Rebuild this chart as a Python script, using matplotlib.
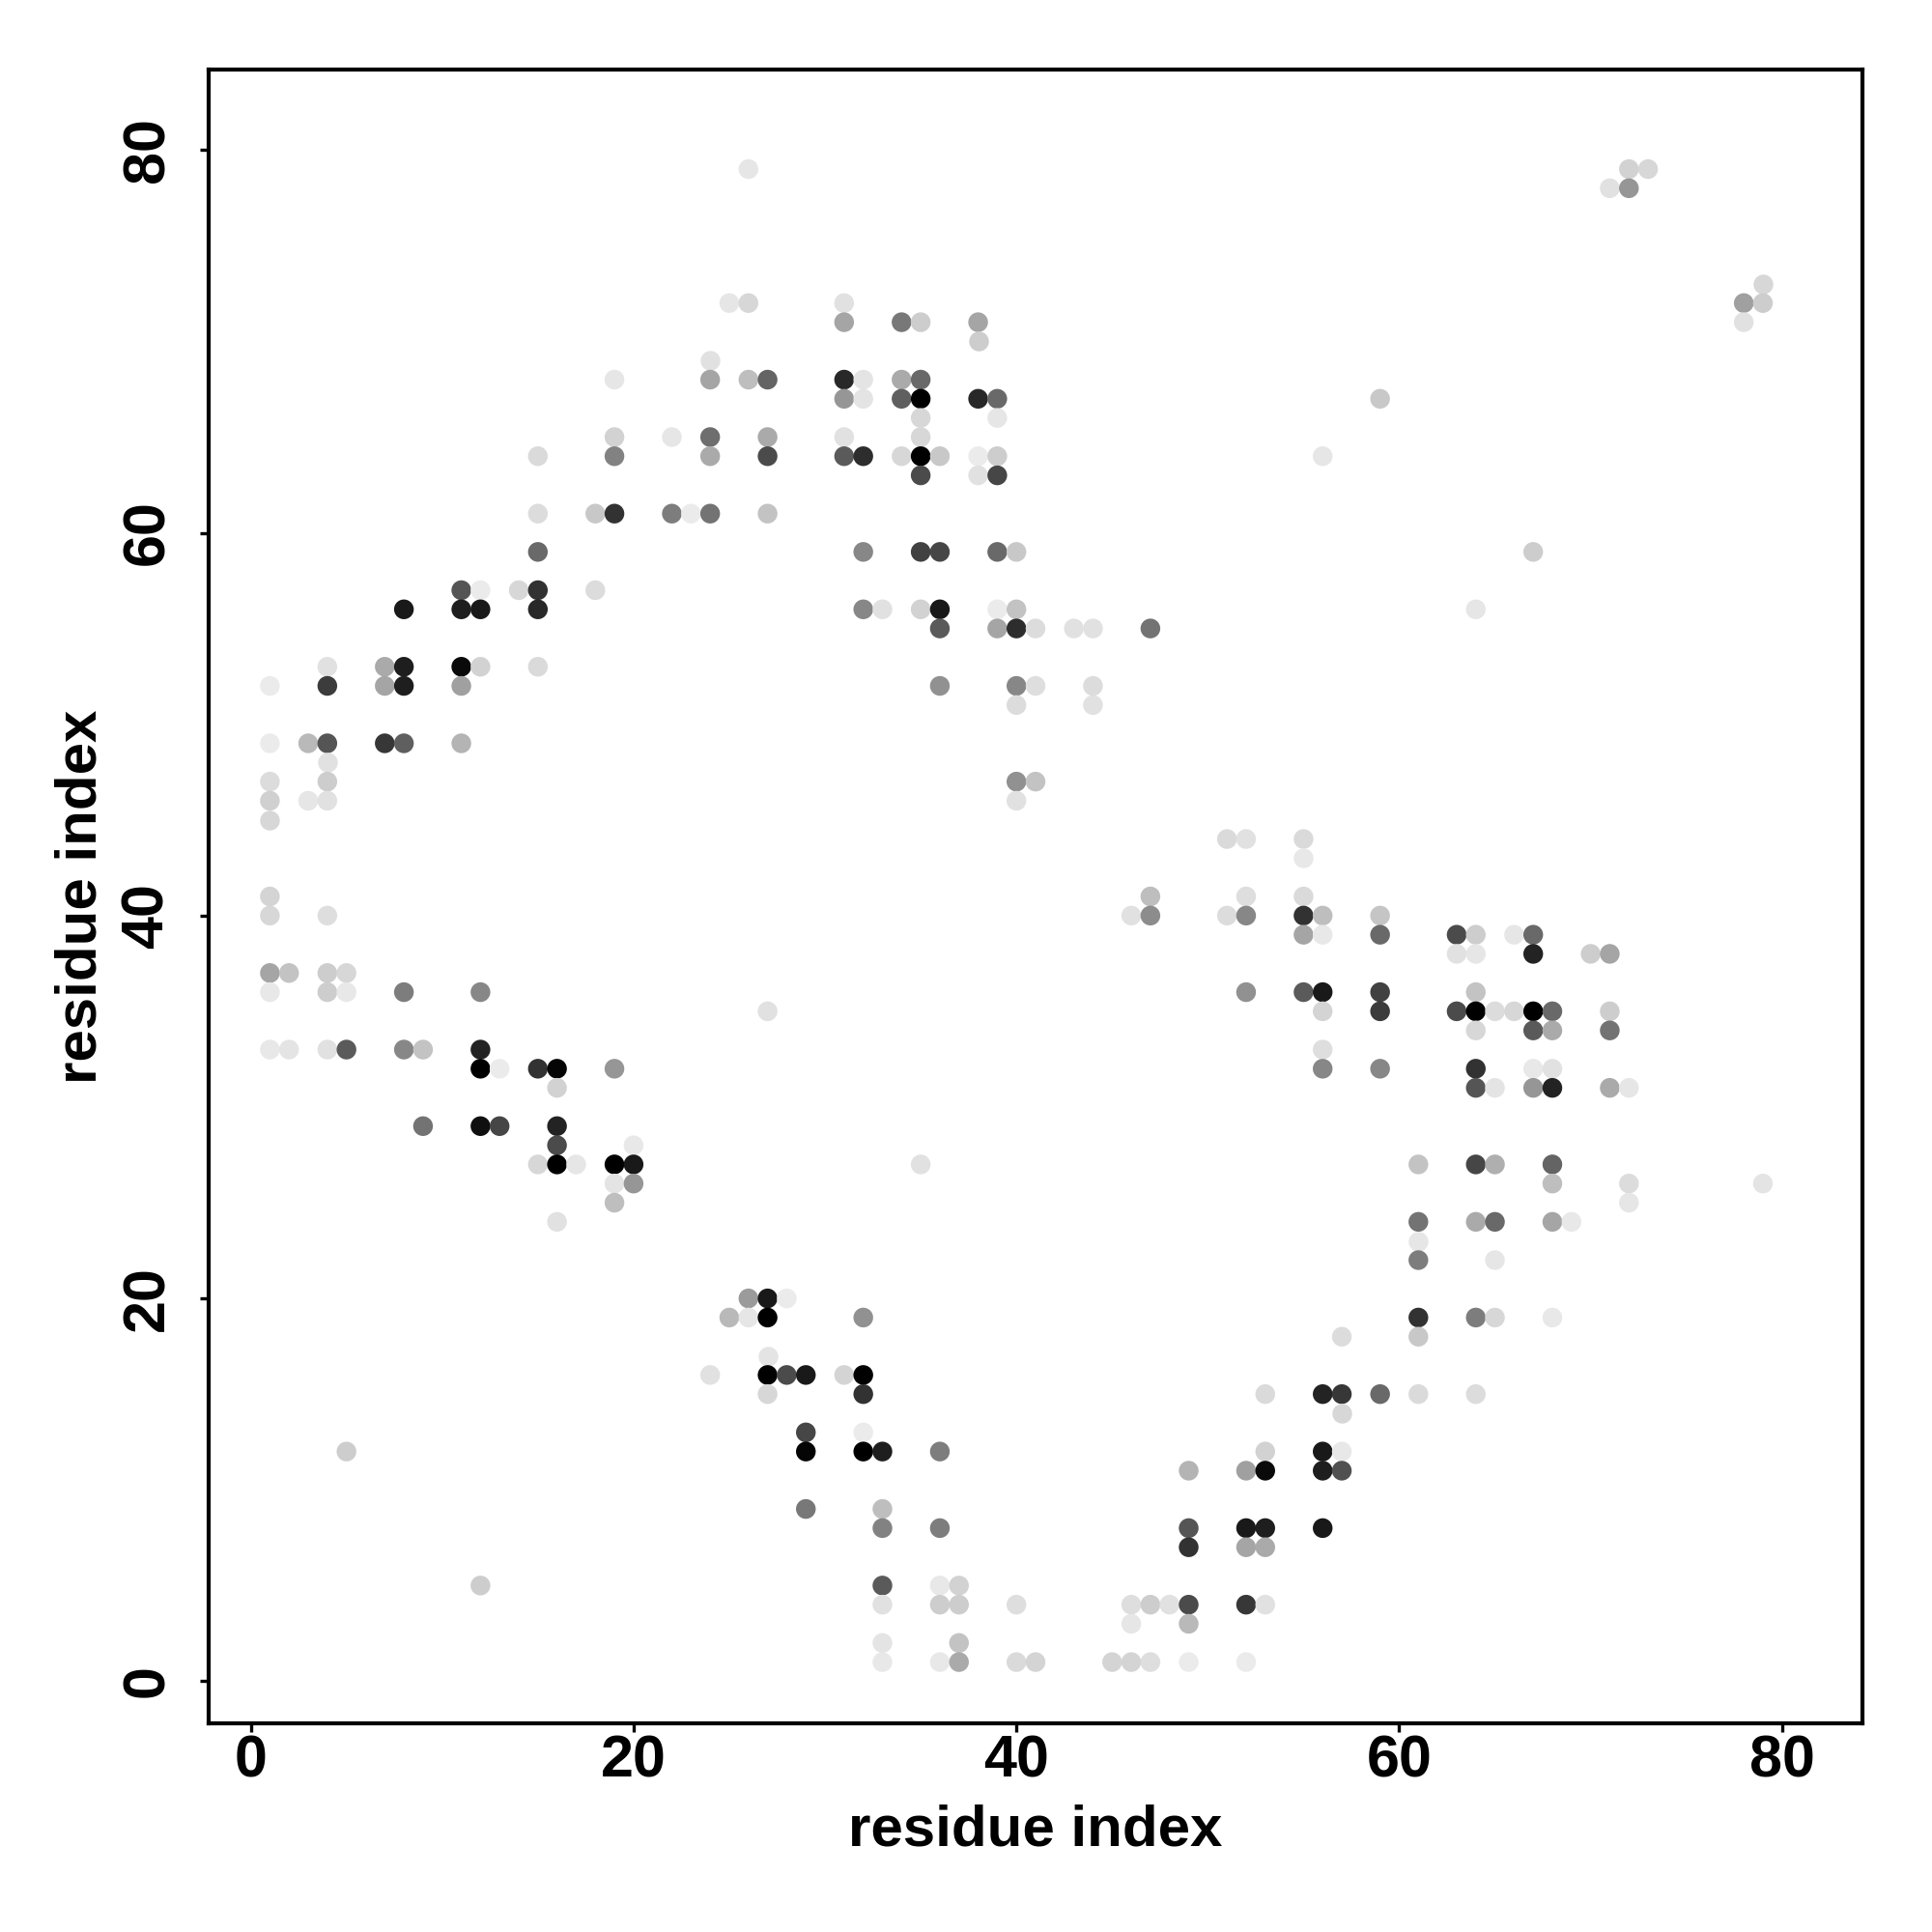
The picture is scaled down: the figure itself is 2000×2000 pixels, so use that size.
import matplotlib
matplotlib.use("Agg")
import matplotlib.pyplot as plt

plt.rcParams["font.family"] = ["Liberation Sans", "DejaVu Sans"]
plt.rcParams["font.weight"] = "bold"

# contact rows: y residue, then x residues and the grey level (0-255) of each point
row_y = [79, 78, 73, 72, 71, 70, 69, 68, 67, 66, 65, 64, 63, 61, 59, 57, 56, 55, 53, 52, 51, 49, 48, 47, 46, 45,
         44, 43, 41, 40, 39, 38, 37, 36, 35, 34, 33, 32, 31, 29, 28, 27, 26, 25, 24, 23, 22, 20, 19, 18, 17, 16,
         15, 14, 13, 12, 11, 9, 8, 7, 5, 4, 3, 2, 1]
row_x = [
    [26, 72, 73],
    [71, 72],
    [79],
    [25, 26, 31, 78, 79],
    [31, 34, 35, 38, 78],
    [38],
    [24],
    [19, 24, 26, 27, 31, 32, 34, 35],
    [31, 32, 34, 35, 38, 39, 59],
    [35, 39],
    [19, 22, 24, 27, 31, 35],
    [15, 19, 24, 27, 31, 32, 34, 35, 36, 38, 39, 56],
    [35, 38, 39],
    [15, 18, 19, 22, 23, 24, 27],
    [15, 32, 35, 36, 39, 40, 67],
    [11, 12, 14, 15, 18],
    [8, 11, 12, 15, 32, 33, 35, 36, 39, 40, 64],
    [36, 39, 40, 41, 43, 44, 47],
    [4, 7, 8, 11, 12, 15],
    [1, 4, 7, 8, 11, 36, 40, 41, 44],
    [40, 44],
    [1, 3, 4, 7, 8, 11],
    [4],
    [1, 4, 40, 41],
    [1, 3, 4, 40],
    [1],
    [51, 52, 55],
    [55],
    [1, 47, 52, 55],
    [1, 4, 46, 47, 51, 52, 55, 56, 59],
    [55, 56, 59, 63, 64, 66, 67],
    [63, 64, 67, 70, 71],
    [1, 2, 4, 5],
    [1, 4, 5, 8, 12, 52, 55, 56, 59, 64],
    [27, 56, 59, 63, 64, 65, 66, 67, 68, 71],
    [64, 67, 68, 71],
    [1, 2, 4, 5, 8, 9, 12, 56],
    [12, 13, 15, 16, 19, 56, 59, 64, 67, 68],
    [16, 64, 65, 67, 68, 71, 72],
    [9, 12, 13, 16],
    [16, 20],
    [15, 16, 17, 19, 20, 35, 61, 64, 65, 68],
    [19, 20, 68, 72, 79],
    [19, 72],
    [16, 61, 64, 65, 68, 69],
    [61],
    [61, 65],
    [26, 27, 28],
    [25, 26, 27, 32, 61, 64, 65, 68],
    [57, 61],
    [27],
    [24, 27, 28, 29, 31, 32],
    [27, 32, 53, 56, 57, 59, 61, 64],
    [57],
    [29, 32],
    [5, 29, 32, 33, 36, 53, 56, 57],
    [49, 52, 53, 56, 57],
    [29, 33],
    [33, 36, 49, 52, 53, 56],
    [49, 52, 53],
    [12, 33, 36, 37],
    [33, 36, 37, 40, 46, 47, 48, 49, 52, 53],
    [46, 49],
    [33, 37],
    [33, 36, 37, 40, 41, 45, 46, 47, 49, 52],
]
row_grey = [
    [230, 210, 215],
    [225, 150],
    [215],
    [230, 215, 225, 160, 205],
    [165, 120, 205, 165, 225],
    [205],
    [225],
    [230, 165, 190, 100, 40, 228, 170, 105],
    [150, 228, 95, 0, 40, 105, 200],
    [215, 230],
    [210, 230, 110, 170, 225, 215],
    [218, 130, 170, 75, 90, 45, 215, 0, 200, 235, 205, 230],
    [75, 225, 70],
    [220, 200, 50, 125, 235, 115, 195],
    [105, 135, 65, 70, 105, 200, 205],
    [85, 235, 215, 50, 220],
    [25, 30, 25, 40, 135, 225, 210, 25, 235, 195, 230],
    [90, 165, 45, 220, 225, 225, 115],
    [225, 170, 30, 10, 210, 218],
    [235, 60, 165, 30, 160, 145, 135, 222, 220],
    [220, 225],
    [235, 185, 85, 55, 95, 180],
    [225],
    [220, 205, 145, 195],
    [208, 230, 225, 225],
    [215],
    [218, 225, 218],
    [232],
    [212, 190, 222, 218],
    [215, 222, 225, 140, 220, 135, 50, 190, 197],
    [165, 232, 105, 75, 205, 230, 105],
    [225, 230, 35, 205, 165],
    [165, 195, 205, 215],
    [232, 205, 232, 125, 135, 145, 90, 25, 65, 195],
    [225, 212, 60, 75, 0, 220, 215, 0, 105, 205],
    [215, 90, 170, 115],
    [232, 228, 225, 90, 135, 195, 35, 222],
    [0, 235, 50, 5, 150, 135, 135, 50, 232, 225],
    [210, 85, 228, 150, 35, 170, 230],
    [115, 15, 70, 35],
    [75, 232],
    [215, 0, 230, 0, 25, 225, 195, 70, 175, 100],
    [228, 150, 190, 220, 228],
    [190, 230],
    [225, 115, 170, 105, 165, 232],
    [230],
    [125, 230],
    [155, 25, 235],
    [185, 230, 0, 145, 50, 125, 215, 232],
    [220, 200],
    [228],
    [225, 0, 75, 25, 212, 0],
    [215, 50, 218, 35, 55, 105, 218, 220],
    [215],
    [70, 235],
    [205, 5, 0, 30, 125, 210, 25, 232],
    [180, 160, 10, 30, 80],
    [120, 190],
    [130, 125, 85, 25, 30, 25],
    [50, 165, 170],
    [205, 90, 232, 210],
    [225, 205, 205, 222, 222, 205, 225, 75, 55, 225],
    [230, 185],
    [228, 195],
    [232, 232, 170, 218, 212, 212, 212, 222, 235, 235],
]
tick_values = [0, 20, 40, 60, 80]

fig = plt.figure(figsize=(10, 10), dpi=200)
ax = fig.add_axes([216 / 2000, 1 - 1784 / 2000, (1928 - 216) / 2000, (1784 - 72) / 2000])

for y, xs, greys in zip(row_y, row_x, row_grey):
    ax.scatter(xs, [y] * len(xs), c=[str(g / 255) for g in greys], s=54, linewidths=0, zorder=2)

ax.set_xlim(-2.2, 84.2)
ax.set_ylim(-2.2, 84.2)
ax.set_xticks(tick_values)
ax.set_yticks(tick_values)
ax.tick_params(axis="both", length=3.2, width=1.2, labelsize=22)
ax.tick_params(axis="x", pad=1)
ax.tick_params(axis="y", pad=9)
for lab in ax.get_yticklabels():
    lab.set_rotation(90)
    lab.set_va("center")
for sp in ax.spines.values():
    sp.set_linewidth(1.5)

ax.set_xlabel("residue index", fontsize=21.6, fontweight="bold", labelpad=5.5)
ax.set_ylabel("residue index", fontsize=21.6, fontweight="bold", labelpad=5)

fig.savefig("out.png", dpi=200, facecolor="white")
